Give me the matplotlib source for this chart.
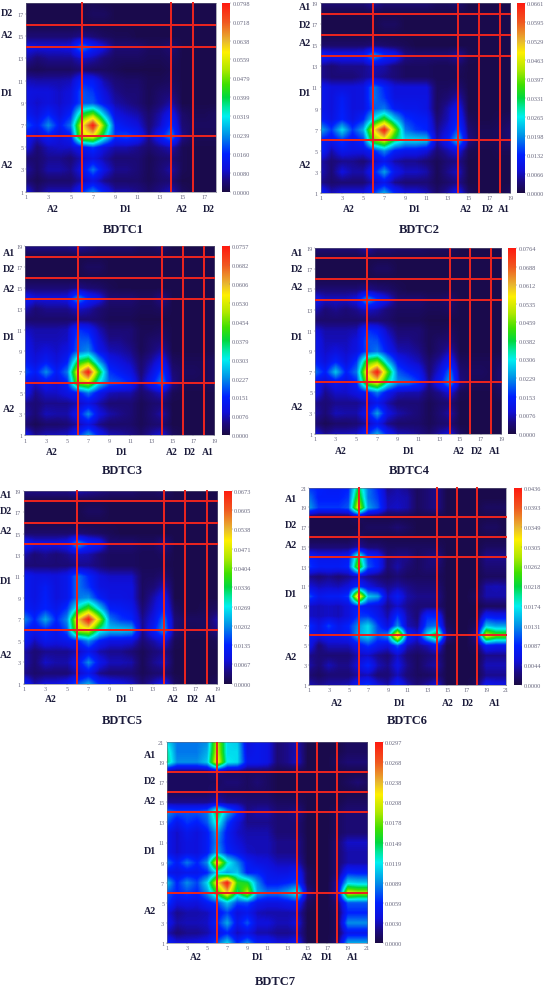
import numpy as np
import matplotlib
matplotlib.use("Agg")
import matplotlib.pyplot as plt
from matplotlib.colors import LinearSegmentedColormap

W, H = 548, 987
SERIF = ['Liberation Serif', 'DejaVu Serif']

# Heat values in percent of each panel's maximum; rows listed from top (highest y) to bottom (y=1)
BDTC1 = [
[1,1,1,1,1,1,2,1,1,1,1,1,1,1,1,1,1,1],
[1,1,1,1,1,1,3,3,1,1,1,1,1,1,1,1,1,1],
[1,1,1,1,1,1,1,1,1,1,1,1,1,1,1,1,1,1],
[5,5,5,5,5,7,5,3,2,2,1,1,1,1,1,1,1,1],
[14,13,13,13,14,30,20,13,5,5,5,3,3,5,1,1,1,1],
[9,5,7,7,7,11,9,5,3,3,3,2,2,3,1,1,1,1],
[3,2,3,3,3,5,3,3,2,1,1,1,1,2,1,1,1,1],
[10,9,9,9,10,20,18,9,5,4,4,2,2,3,1,1,1,1],
[14,13,13,11,13,25,22,13,7,5,5,2,4,5,1,1,1,1],
[14,11,13,11,14,25,25,16,9,7,5,2,5,9,1,1,1,1],
[18,13,20,13,20,50,60,35,14,11,9,4,9,16,4,2,2,3],
[25,18,30,18,28,72,100,58,20,16,13,5,11,22,5,3,3,3],
[16,11,18,13,18,68,72,45,22,24,20,7,18,30,7,2,2,2],
[14,5,10,11,11,16,22,13,9,9,7,4,7,10,2,1,1,1],
[5,4,7,7,5,10,14,9,5,5,5,2,4,5,2,1,1,1],
[9,4,9,9,7,14,28,14,7,7,5,2,5,9,2,1,1,1],
[5,2,4,4,4,9,14,7,4,4,4,2,4,5,1,1,1,1],
[14,5,10,10,10,20,30,18,9,9,7,4,7,11,3,1,1,1],
]
BDTC2 = [
[5,5,5,5,5,9,5,5,5,5,5,3,3,5,1,1,1,1,1],
[1,1,1,1,1,1,1,1,1,1,1,1,1,1,1,1,1,1,1],
[1,1,1,1,1,1,3,3,1,1,1,1,1,1,1,1,1,1,1],
[1,1,1,1,1,1,1,1,1,1,1,1,1,1,1,1,1,1,1],
[4,4,4,4,4,5,4,3,2,1,1,1,1,1,1,1,1,1,1],
[20,16,16,16,17,33,22,18,7,5,5,5,5,9,2,1,1,1,1],
[7,5,7,7,7,10,9,5,3,3,3,2,2,3,1,1,1,1,1],
[7,5,5,5,7,9,7,5,3,3,3,2,2,2,1,1,1,1,1],
[16,13,13,13,14,28,20,13,13,13,13,3,3,5,1,1,1,1,1],
[16,13,18,13,14,28,22,14,14,14,14,3,5,10,1,1,1,1,1],
[16,13,19,13,14,25,28,18,16,16,14,3,9,16,1,1,1,1,1],
[19,14,20,14,20,40,55,36,22,19,18,5,10,20,3,1,1,2,3],
[33,22,38,22,33,74,100,62,28,22,20,7,13,25,5,2,2,3,5],
[19,16,22,16,22,60,70,48,38,38,36,9,18,36,7,2,2,3,5],
[20,9,16,14,14,20,30,19,16,16,13,5,9,14,2,1,1,2,2],
[9,5,7,7,5,10,16,9,7,7,5,2,5,7,1,1,1,1,1],
[10,5,13,9,9,18,32,16,11,11,9,2,7,11,1,1,1,1,1],
[7,4,5,5,5,10,16,7,5,5,5,2,4,7,1,1,1,1,1],
[20,10,13,13,13,22,33,20,13,13,10,4,9,16,3,1,1,1,3],
]
BDTC3 = [
[7,7,7,7,7,9,7,5,5,5,5,3,3,5,1,1,1,1,1],
[1,1,1,1,1,1,1,1,1,1,1,1,1,1,1,1,1,1,1],
[1,1,1,1,1,1,3,3,1,1,1,1,1,1,1,1,1,1,1],
[1,1,1,1,1,1,1,1,1,1,1,1,1,1,1,1,1,1,1],
[5,5,5,5,5,7,5,4,2,1,1,1,1,1,1,1,1,1,1],
[18,13,13,13,14,32,20,15,5,5,5,3,3,7,1,1,1,1,1],
[10,5,7,7,7,11,9,5,3,3,3,2,2,3,1,1,1,1,1],
[4,4,4,4,4,5,5,4,2,2,2,1,1,1,1,1,1,1,1],
[11,9,9,9,10,22,19,10,5,5,5,2,2,3,1,1,1,1,1],
[14,10,10,10,11,25,25,13,7,7,5,2,4,5,1,1,1,1,1],
[16,11,13,11,14,26,30,16,10,9,7,2,5,9,1,1,1,1,1],
[18,13,18,13,19,50,58,32,16,13,10,4,9,16,3,2,2,2,3],
[25,18,30,18,28,72,100,55,22,18,14,5,13,24,5,3,3,2,3],
[16,11,16,13,20,62,68,40,26,24,20,7,18,30,7,2,2,2,3],
[16,7,11,11,14,18,28,16,10,9,9,4,7,11,2,1,1,1,1],
[7,5,7,7,7,10,14,9,5,5,5,2,4,5,1,1,1,1,1],
[9,5,10,9,9,16,30,14,9,7,5,2,5,9,1,1,1,1,1],
[5,2,4,4,5,9,14,7,4,4,4,2,4,5,1,1,1,1,1],
[16,7,10,10,11,20,32,18,10,9,7,4,9,13,3,1,1,1,1],
]
BDTC4 = [
[5,5,5,5,5,10,5,5,4,4,4,3,3,3,1,1,1,1,1],
[1,1,1,1,1,1,1,1,1,1,1,1,1,1,1,1,1,1,1],
[1,1,1,1,1,1,3,3,1,1,1,1,1,1,1,1,1,1,1],
[1,1,1,1,1,1,1,1,1,1,1,1,1,1,1,1,1,1,1],
[5,5,5,5,5,7,5,4,2,1,1,1,1,1,1,1,1,1,1],
[16,11,11,11,14,33,22,14,5,5,5,3,3,5,1,1,1,1,1],
[10,5,7,5,7,11,9,5,3,3,3,2,2,3,1,1,1,1,1],
[4,4,4,4,4,5,5,4,2,2,2,1,1,1,1,1,1,1,1],
[13,9,9,9,10,22,19,10,5,5,5,2,2,3,1,1,1,1,1],
[16,10,10,10,13,25,24,14,7,7,5,2,4,5,1,1,1,1,1],
[16,11,13,11,14,24,28,18,10,9,7,2,5,10,1,1,1,1,1],
[19,13,20,13,22,55,62,35,18,13,10,4,9,18,3,2,2,2,3],
[28,19,36,19,28,74,100,58,25,20,16,5,13,28,5,3,3,2,5],
[16,11,16,13,20,62,72,44,30,28,22,7,18,33,7,2,2,2,5],
[16,7,11,11,14,18,28,16,10,9,9,4,7,13,2,1,1,1,3],
[7,5,7,7,7,10,16,9,5,5,5,2,4,5,1,1,1,1,1],
[9,5,10,9,9,16,32,14,9,7,5,2,5,9,1,1,1,1,1],
[5,2,4,4,5,9,16,7,4,4,4,2,4,5,1,1,1,1,1],
[14,7,10,10,11,20,33,18,10,9,7,4,9,13,3,1,1,1,1],
]
BDTC5 = [
[7,7,7,7,7,11,9,7,5,5,5,3,3,5,1,1,1,1,1],
[1,1,1,1,1,1,1,1,1,1,1,1,1,1,1,1,1,1,1],
[1,1,1,1,1,1,3,3,1,1,1,1,1,1,1,1,1,1,1],
[1,1,1,1,1,1,1,1,1,1,1,1,1,1,1,1,1,1,1],
[4,4,4,4,4,5,4,3,2,1,1,1,1,1,1,1,1,1,1],
[20,14,14,14,16,33,22,18,5,5,5,3,3,7,1,1,1,1,1],
[9,5,7,5,7,10,9,5,3,3,3,2,2,3,1,1,1,1,1],
[5,5,5,5,5,7,7,5,3,3,3,2,2,2,1,1,1,1,1],
[18,14,14,13,16,28,20,13,11,11,11,3,3,5,1,1,1,1,1],
[18,14,18,13,16,28,22,14,13,13,13,3,5,10,1,1,1,1,1],
[18,14,19,13,16,28,30,19,14,14,13,3,9,16,1,1,1,1,1],
[19,16,20,16,22,44,58,38,19,18,16,5,11,20,3,1,1,2,3],
[30,20,33,20,30,76,100,67,28,22,20,7,14,28,5,3,3,3,10],
[20,16,20,16,25,68,70,43,36,36,34,7,18,32,5,2,2,3,7],
[18,10,16,14,16,20,30,19,14,14,13,5,9,14,2,1,1,1,2],
[9,5,7,7,7,10,16,9,7,7,5,2,5,7,1,1,1,1,1],
[10,5,11,9,9,16,30,16,10,10,9,2,7,10,1,1,1,1,1],
[7,4,5,5,5,10,16,7,5,5,5,2,4,5,1,1,1,1,1],
[20,9,13,13,16,25,33,20,16,14,11,5,10,16,3,1,1,1,3],
]
BDTC6 = [
[22,20,18,18,20,50,28,20,7,9,7,3,5,7,1,1,1,1,1,1,1],
[28,19,19,19,22,60,28,22,9,10,9,3,5,7,1,1,1,1,1,1,1],
[32,22,22,22,25,72,32,25,10,11,9,3,5,7,1,1,1,1,3,3,3],
[1,1,1,1,1,3,1,1,1,1,1,1,1,1,1,1,1,1,1,1,1],
[1,1,1,1,1,1,3,3,3,5,3,1,1,1,1,1,1,1,3,3,1],
[1,1,1,1,1,3,1,1,1,1,1,1,1,1,1,1,1,1,1,1,1],
[5,5,5,5,5,9,5,5,3,3,3,3,3,3,1,1,1,1,3,3,3],
[20,16,16,16,18,50,22,18,5,7,7,3,5,7,1,1,1,1,7,7,7],
[22,18,18,18,20,62,25,19,5,9,5,3,5,5,1,1,1,1,5,5,5],
[7,5,7,5,7,10,7,5,3,5,3,3,3,3,1,1,1,1,3,3,3],
[13,10,11,10,13,22,14,10,7,9,7,5,5,5,1,1,1,1,9,10,9],
[25,16,18,18,22,85,36,32,10,18,9,7,7,7,1,1,1,3,9,9,9],
[11,10,11,10,13,20,16,13,7,11,7,5,5,5,1,1,1,1,3,3,3],
[11,10,11,10,13,22,22,16,9,22,9,5,20,20,1,1,1,1,18,16,16],
[22,14,23,16,20,30,38,23,13,30,10,7,25,28,3,1,1,3,36,32,32],
[18,14,16,16,18,33,38,25,30,85,22,13,40,58,7,1,1,7,72,60,60],
[16,5,10,10,10,16,22,16,13,25,10,7,10,16,1,1,1,3,18,16,16],
[7,5,5,5,5,10,11,7,5,11,5,3,5,7,1,1,1,1,7,7,7],
[9,5,10,7,7,13,20,10,7,14,7,3,7,9,1,1,1,1,10,10,10],
[5,3,5,5,5,9,10,5,5,10,5,3,3,5,1,1,1,1,7,7,7],
[10,7,9,9,10,18,22,13,9,20,10,5,9,13,1,1,1,3,16,14,14],
]
BDTC7 = [
[38,28,28,28,30,68,38,36,13,16,14,5,7,10,1,1,1,1,3,3,3],
[46,28,28,28,33,70,38,38,14,16,14,5,7,10,1,1,1,1,3,3,3],
[48,30,30,30,36,76,40,38,16,16,14,5,7,11,1,1,1,3,5,5,5],
[3,3,3,3,3,5,3,3,3,3,3,1,1,1,1,1,1,1,1,1,1],
[3,3,3,3,3,3,5,5,3,5,3,1,1,1,1,1,1,1,3,5,3],
[3,3,3,3,3,5,3,3,3,3,3,1,1,1,1,1,1,1,1,1,1],
[7,7,7,7,7,10,7,7,5,5,5,3,3,3,1,1,1,1,3,3,3],
[30,25,25,25,28,52,33,22,7,9,9,5,5,7,1,1,1,3,5,5,5],
[25,16,22,19,25,44,23,13,7,7,7,5,5,5,1,1,1,3,5,5,5],
[16,11,16,13,18,33,18,11,9,9,9,5,5,5,1,1,1,3,5,5,5],
[16,11,14,13,18,30,18,13,10,10,10,7,7,7,1,1,1,5,11,11,11],
[16,11,14,13,18,33,20,16,11,10,10,7,7,7,1,1,1,5,9,9,9],
[28,18,28,20,30,76,43,30,18,14,13,10,10,10,1,1,1,5,9,9,9],
[16,14,16,16,20,38,32,36,19,20,16,14,14,18,3,1,1,5,20,19,19],
[36,20,30,23,38,74,100,55,52,30,18,18,20,23,3,1,1,9,38,36,36],
[25,20,23,20,30,52,78,46,67,33,28,28,33,43,7,1,1,10,70,66,66],
[23,13,14,13,18,23,36,23,24,16,14,14,16,18,3,1,1,5,25,25,25],
[13,7,9,9,10,16,23,13,16,10,9,9,9,10,1,1,1,3,20,20,20],
[16,9,10,10,11,20,33,16,25,13,13,10,10,13,1,1,1,3,30,30,30],
[10,5,7,7,9,14,20,10,14,9,9,7,7,9,1,1,1,3,16,16,16],
[20,13,13,14,16,25,38,20,30,18,18,13,13,16,1,1,1,5,33,33,33],
]

NAMES = ['BDTC1','BDTC2','BDTC3','BDTC4','BDTC5','BDTC6','BDTC7']
MATRICES = [BDTC1,BDTC2,BDTC3,BDTC4,BDTC5,BDTC6,BDTC7]
VMAX = [0.0798,0.0661,0.0757,0.0764,0.0673,0.0436,0.0297]
CBAR_LABELS = [
['0.0000','0.0080','0.0160','0.0239','0.0319','0.0399','0.0479','0.0559','0.0638','0.0718','0.0798'],
['0.0000','0.0066','0.0132','0.0198','0.0265','0.0331','0.0397','0.0463','0.0529','0.0595','0.0661'],
['0.0000','0.0076','0.0151','0.0227','0.0303','0.0379','0.0454','0.0530','0.0606','0.0682','0.0757'],
['0.0000','0.0076','0.0153','0.0229','0.0306','0.0382','0.0459','0.0535','0.0612','0.0688','0.0764'],
['0.0000','0.0067','0.0135','0.0202','0.0269','0.0336','0.0404','0.0471','0.0538','0.0605','0.0673'],
['0.0000','0.0044','0.0087','0.0131','0.0174','0.0218','0.0262','0.0305','0.0349','0.0393','0.0436'],
['0.0000','0.0030','0.0059','0.0089','0.0119','0.0149','0.0178','0.0208','0.0238','0.0268','0.0297'],
]
# axes box: left, right, top, bottom; colour bar: left, right (pixels)
BOXES = [(26.3,215.7,3.7,192.7,222.3,230),(320.7,510.3,4.3,193.7,517.3,524.7),
         (25,214.3,247.3,436.3,221.7,229.3),(315,501.3,249,434.7,508.3,516),
         (23.7,217.3,491.7,684.7,224.3,231.7),(309.3,506.3,488.7,685.7,514,521.3),
         (167,367.3,743.3,943.7,375,382.7)]
V_LINES = [[6,14,16],[6,14,16,18],[6,14,16,18],[6,14,16,18],[6,14,16,18],[6,14,16,18],[6,14,16,18]]
H_LINES = V_LINES
X_GROUPS = [
[('A2',53),('D1',126),('A2',182),('D2',209)],
[('A2',349),('D1',415),('A2',466),('D2',488),('A1',504)],
[('A2',52),('D1',122),('A2',172),('D2',190),('A1',208)],
[('A2',341),('D1',409),('A2',459),('D2',477),('A1',495)],
[('A2',51),('D1',122),('A2',173),('D2',193),('A1',211)],
[('A2',337),('D1',400),('A2',448),('D2',468),('A1',495)],
[('A2',196),('D1',258),('A2',307),('D1',327),('A1',353)],
]
X_GROUP_Y = [210,210,453,451,700,704,958]
Y_GROUPS = [
[('D2',14),('A2',36),('D1',94),('A2',166)],
[('A1',8),('D2',25),('A2',44),('D1',94),('A2',166)],
[('A1',253),('D2',269),('A2',289),('D1',338),('A2',409)],
[('A1',253),('D2',270),('A2',288),('D1',337),('A2',407)],
[('A1',495),('D2',512),('A2',532),('D1',582),('A2',655)],
[('A1',500),('D2',525),('A2',546),('D1',595),('A2',657)],
[('A1',756),('D2',782),('A2',802),('D1',851),('A2',912)],
]
Y_GROUP_X = [7,305,9,297,6,291,150]
TITLE_POS = [(123,230),(419,230),(122,471),(409,471),(122,721),(407,721),(275,982)]

cmap = LinearSegmentedColormap.from_list('jetlike', [
    (0.00,'#1a0a45'),(0.06,'#1c0a80'),(0.12,'#1010d8'),(0.20,'#0020ff'),(0.30,'#0090e8'),
    (0.40,'#00f0f0'),(0.45,'#00e8a0'),(0.50,'#00d840'),(0.57,'#40e000'),(0.65,'#b0e800'),
    (0.74,'#fff000'),(0.80,'#e8b830'),(0.90,'#f05820'),(1.00,'#ff1a10')])
RED = '#e8231f'
GREY = '#6a6a80'
NAVY = '#1a1a3a'

fig = plt.figure(figsize=(W/100, H/100), dpi=100)

def box(l, r, t, b):
    return [l/W, 1-b/H, (r-l)/W, (b-t)/H]

for i, name in enumerate(NAMES):
    l, r, t, b, cl, cr = BOXES[i]
    z = np.array(MATRICES[i], dtype=float)[::-1] / 100 * VMAX[i]
    n = z.shape[0]
    ax = fig.add_axes(box(l, r, t, b))
    ax.imshow(z, origin='lower', extent=[0.5, n+0.5, 0.5, n+0.5], cmap=cmap, vmin=0, vmax=VMAX[i],
              interpolation='bilinear', interpolation_stage='data', aspect='auto')
    ax.set_xlim(1, n); ax.set_ylim(1, n)
    tk = np.arange(1, n+1, 2)
    ax.set_xticks(tk); ax.set_yticks(tk)
    ax.tick_params(labelsize=4.4, length=1, width=0.3, pad=1, colors=GREY)
    for lab in ax.get_xticklabels() + ax.get_yticklabels():
        lab.set_family(SERIF)
    for s in ax.spines.values():
        s.set_linewidth(0.4); s.set_color(GREY)
    for v in V_LINES[i]:
        ax.plot([v, v], [1, n + 0.03], color=RED, lw=1.45, clip_on=False, solid_capstyle='butt', zorder=5)
    for h in H_LINES[i]:
        ax.plot([1, n + 0.06], [h, h], color=RED, lw=1.45, clip_on=False, solid_capstyle='butt', zorder=5)

    cax = fig.add_axes(box(cl, cr, t, b))
    cax.imshow(np.linspace(0, 1, 256)[:, None], origin='lower', extent=[0, 1, 0, 1], cmap=cmap, aspect='auto')
    cax.set_xticks([])
    cax.set_yticks(np.linspace(0, 1, 11))
    cax.set_yticklabels(CBAR_LABELS[i])
    cax.yaxis.tick_right()
    cax.tick_params(labelsize=4.6, length=0.8, width=0.3, pad=1, colors=GREY)
    for lab in cax.get_yticklabels():
        lab.set_family(SERIF)
    for s in cax.spines.values():
        s.set_visible(False)

    for lab, x in X_GROUPS[i]:
        fig.text(x/W, 1-X_GROUP_Y[i]/H, lab, family=SERIF, weight='bold', fontsize=7, color=NAVY, ha='center', va='center')
    for lab, y in Y_GROUPS[i]:
        fig.text(Y_GROUP_X[i]/W, 1-y/H, lab, family=SERIF, weight='bold', fontsize=7.2, color=NAVY, ha='center', va='center')
    tx, ty = TITLE_POS[i]
    fig.text(tx/W, 1-ty/H, name, family=SERIF, weight='bold', fontsize=9, color=NAVY, ha='center', va='center')

fig.savefig('out.png', dpi=100)
